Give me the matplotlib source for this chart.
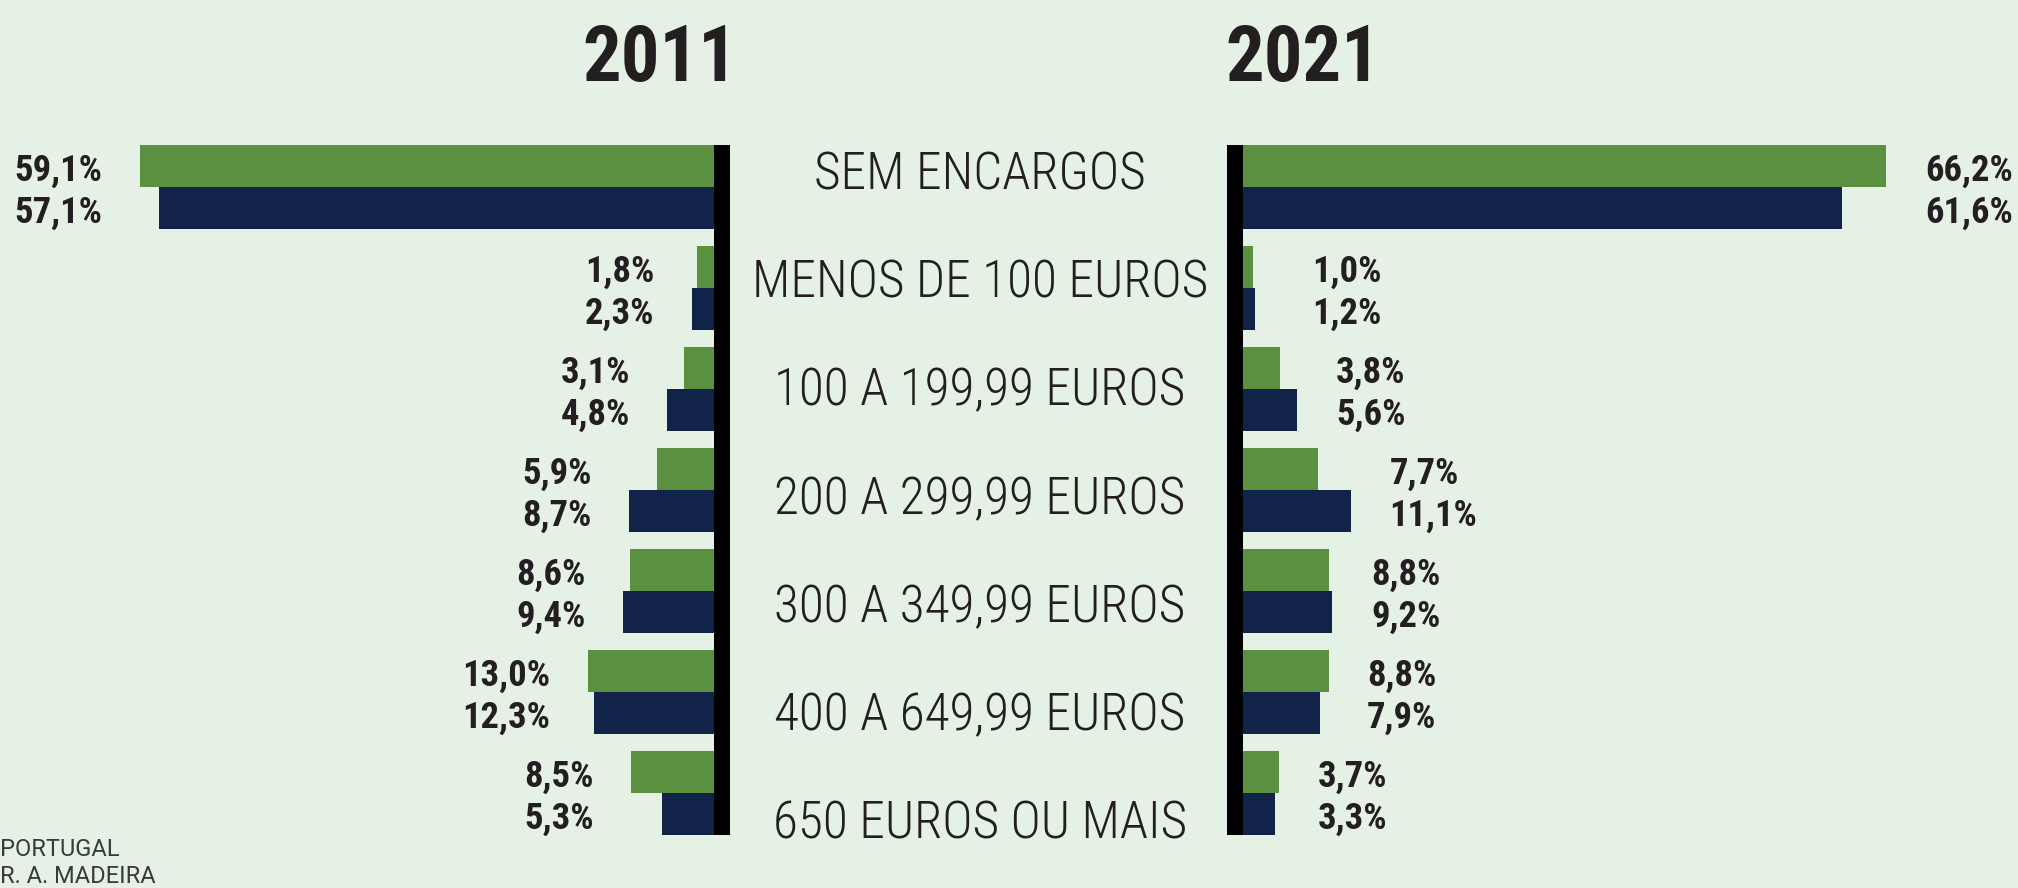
import numpy as np
import matplotlib.pyplot as plt
from matplotlib.transforms import blended_transform_factory

plt.rcParams["font.family"] = ["Roboto Condensed", "DejaVu Sans"]
plt.rcParams["font.stretch"] = "condensed"

categories = ["SEM ENCARGOS", "MENOS DE 100 EUROS", "100 A 199,99 EUROS",
              "200 A 299,99 EUROS", "300 A 349,99 EUROS", "400 A 649,99 EUROS",
              "650 EUROS OU MAIS"]
portugal_2011 = [59.1, 1.8, 3.1, 5.9, 8.6, 13.0, 8.5]
madeira_2011 = [57.1, 2.3, 4.8, 8.7, 9.4, 12.3, 5.3]
portugal_2021 = [66.2, 1.0, 3.8, 7.7, 8.8, 8.8, 3.7]
madeira_2021 = [61.6, 1.2, 5.6, 11.1, 9.2, 7.9, 3.3]
years = ["2011", "2021"]
legend_lines = ["PORTUGAL", "R. A. MADEIRA"]

GREEN = "#5a9040"
NAVY = "#12234a"
BG = "#e5f1e4"
INK = "#231f20"

W, H = 2018, 888
px_per_pct = 9.72
left_zero = 714      # bars start at the outer edge of each divider, px
right_zero = 1243
divider_px = 16
bar_h = 0.415
top_px, step_px = 187, 101   # first group centre and spacing, px
CAP = 0.711                  # cap height / em for Roboto

fig = plt.figure(figsize=(W / 100, H / 100), dpi=100, facecolor=BG)
renderer = fig.canvas.get_renderer()


def fit_size(s, width_px, max_pt, **kw):
    # largest font size (<= max_pt) that keeps s within width_px
    t = fig.text(0, 0, s, fontsize=100, **kw)
    w = t.get_window_extent(renderer).width
    t.remove()
    return min(max_pt, 100 * width_px / w)


def half_cap_px(pt):
    return CAP * pt * 100 / 72 / 2


title_pt = fit_size("2011", 155, 66, fontweight="bold")
value_pt = fit_size("59,1%", 88, 30, fontweight="bold")
cat_pt = fit_size("MENOS DE 100 EUROS", 456, 38, fontweight="light")

axL = fig.add_axes([0, 0, left_zero / W, 1])
axR = fig.add_axes([right_zero / W, 0, (W - right_zero) / W, 1])

n = len(categories)
y = np.arange(n)
ylim = ((H - top_px) / step_px, -top_px / step_px)
val_dy = half_cap_px(value_pt) / step_px


def fmt(v):
    return f"{v:.1f}".replace(".", ",") + "%"


def draw_side(ax, top, bottom, side):
    ax.set_facecolor(BG)
    ax.barh(y - bar_h / 2, top, height=bar_h, color=GREEN, linewidth=0)
    ax.barh(y + bar_h / 2, bottom, height=bar_h, color=NAVY, linewidth=0)
    # divider sits just inside the bar origin
    xline = -divider_px / 2 / px_per_pct
    ax.plot([xline, xline], [-bar_h, n - 1 + bar_h], color="black",
            lw=divider_px * 0.72, solid_capstyle="butt", clip_on=False,
            zorder=5)
    ax.set_ylim(*ylim)
    for spine in ax.spines.values():
        spine.set_visible(False)
    ax.set_xticks([])
    ax.set_yticks([])
    for i in range(n):
        if side == "left":
            x = max(top[i], bottom[i]) + 3.84
            ha = "right"
        else:
            x = max(max(top[i], bottom[i]) + 3.97, 7.1)
            ha = "left"
        ax.text(x, i - bar_h / 2 + val_dy + 0.02, fmt(top[i]), ha=ha,
                va="baseline", fontsize=value_pt, fontweight="bold",
                color=INK)
        ax.text(x, i + bar_h / 2 + val_dy + 0.02, fmt(bottom[i]), ha=ha,
                va="baseline", fontsize=value_pt, fontweight="bold",
                color=INK)


draw_side(axL, portugal_2011, madeira_2011, "left")
axL.set_xlim(left_zero / px_per_pct, 0)
draw_side(axR, portugal_2021, madeira_2021, "right")
axR.set_xlim(0, (W - right_zero) / px_per_pct)

# year headings
title_base = 1 - (54 + half_cap_px(title_pt)) / H
fig.text(660 / W, title_base, years[0], ha="center", va="baseline",
         fontsize=title_pt, fontweight="bold", color=INK)
fig.text(1303 / W, title_base, years[1], ha="center", va="baseline",
         fontsize=title_pt, fontweight="bold", color=INK)

# category names between the two dividers
trans = blended_transform_factory(fig.transFigure, axL.transData)
label_y = np.linspace(-0.16, 6.27, n) + half_cap_px(cat_pt) / step_px
for name, ly in zip(categories, label_y):
    fig.text(980 / W, ly, name, transform=trans, ha="center", va="baseline",
             fontsize=cat_pt, fontweight="light", color=INK)

fig.text(0, 1 - 849 / H, legend_lines[0], ha="left", va="center",
         fontsize=17, color="#3a3a3a", family="Roboto", fontstretch="normal")
fig.text(0, 1 - 876 / H, legend_lines[1], ha="left", va="center",
         fontsize=17, color="#3a3a3a", family="Roboto", fontstretch="normal")

fig.savefig("out.png", dpi=100, facecolor=BG)
